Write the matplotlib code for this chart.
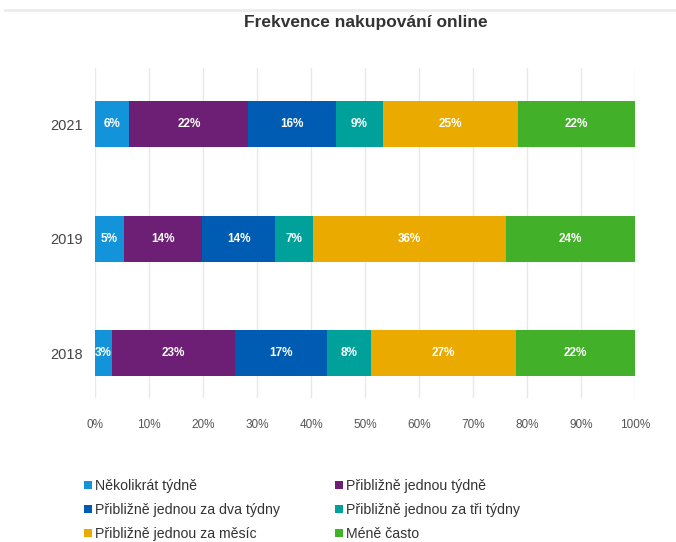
import matplotlib.pyplot as plt
from matplotlib.patches import Patch
from matplotlib.lines import Line2D

plt.rcParams['font.family'] = ['Liberation Sans', 'DejaVu Sans']

# data (shares in %)
years = ["2018", "2019", "2021"]
categories = [
    "Několikrát týdně",
    "Přibližně jednou týdně",
    "Přibližně jednou za dva týdny",
    "Přibližně jednou za tři týdny",
    "Přibližně jednou za měsíc",
    "Méně často",
]
values_2018 = [3.1, 22.8, 17.1, 8.1, 26.9, 22.0]
values_2019 = [5.4, 14.4, 13.6, 6.9, 35.8, 23.9]
values_2021 = [6.35, 22.05, 16.2, 8.7, 25.0, 21.7]
colors = ["#1293da", "#6c1f74", "#005bb2", "#00a19b", "#eaaa00", "#43b02a"]

series = [values_2018, values_2019, values_2021]

fig = plt.figure(figsize=(6.76, 5.42), dpi=100)
ax = fig.add_axes([95 / 676, 1 - 398 / 542, 540 / 676, 330 / 542])

for yi, vals in enumerate(series):
    left = 0
    for ci, v in enumerate(vals):
        ax.barh(yi, v, left=left, height=0.4, color=colors[ci], zorder=2)
        ax.text(left + v / 2, yi, f"{v:.0f}%", ha="center", va="center",
                color="white", fontsize=8.5, fontweight="bold", zorder=3)
        left += v

ax.set_xlim(0, 100)
ax.set_ylim(-0.39, 2.49)
ax.set_xticks(range(0, 101, 10))
ax.set_xticklabels([f"{t}%" for t in range(0, 101, 10)])
ax.set_yticks(range(len(years)))
ax.set_yticklabels(years)
ax.tick_params(axis="x", length=0, labelsize=8.5, labelcolor="#555555", pad=15)
ax.tick_params(axis="y", length=0, labelsize=10.5, labelcolor="#444444", pad=9)
ax.grid(axis="x", color="#e8e8e8", linewidth=1, zorder=0)
for s in ax.spines.values():
    s.set_visible(False)

fig.text(366 / 676, 1 - 22 / 542, "Frekvence nakupování online", ha="center",
         va="center", fontsize=12.5, fontweight="bold", color="#333333")

# faint separator line at the top
fig.add_artist(Line2D([5 / 676, 1], [1 - 10 / 542] * 2, color="#ececec", linewidth=2))

# legend, filled row by row
order = [0, 2, 4, 1, 3, 5]
handles = [Patch(facecolor=colors[i], edgecolor="none") for i in order]
labels = [categories[i] for i in order]
fig.legend(handles, labels, ncol=2, loc="upper left",
           bbox_to_anchor=(84 / 676, 1 - 479 / 542), frameon=False,
           fontsize=10.2, labelcolor="#333333", handlelength=0.54,
           handleheight=0.54, handletextpad=0.22, labelspacing=0.7,
           columnspacing=3.9, borderpad=0, borderaxespad=0)

fig.savefig("out.png", dpi=100, facecolor="white")
